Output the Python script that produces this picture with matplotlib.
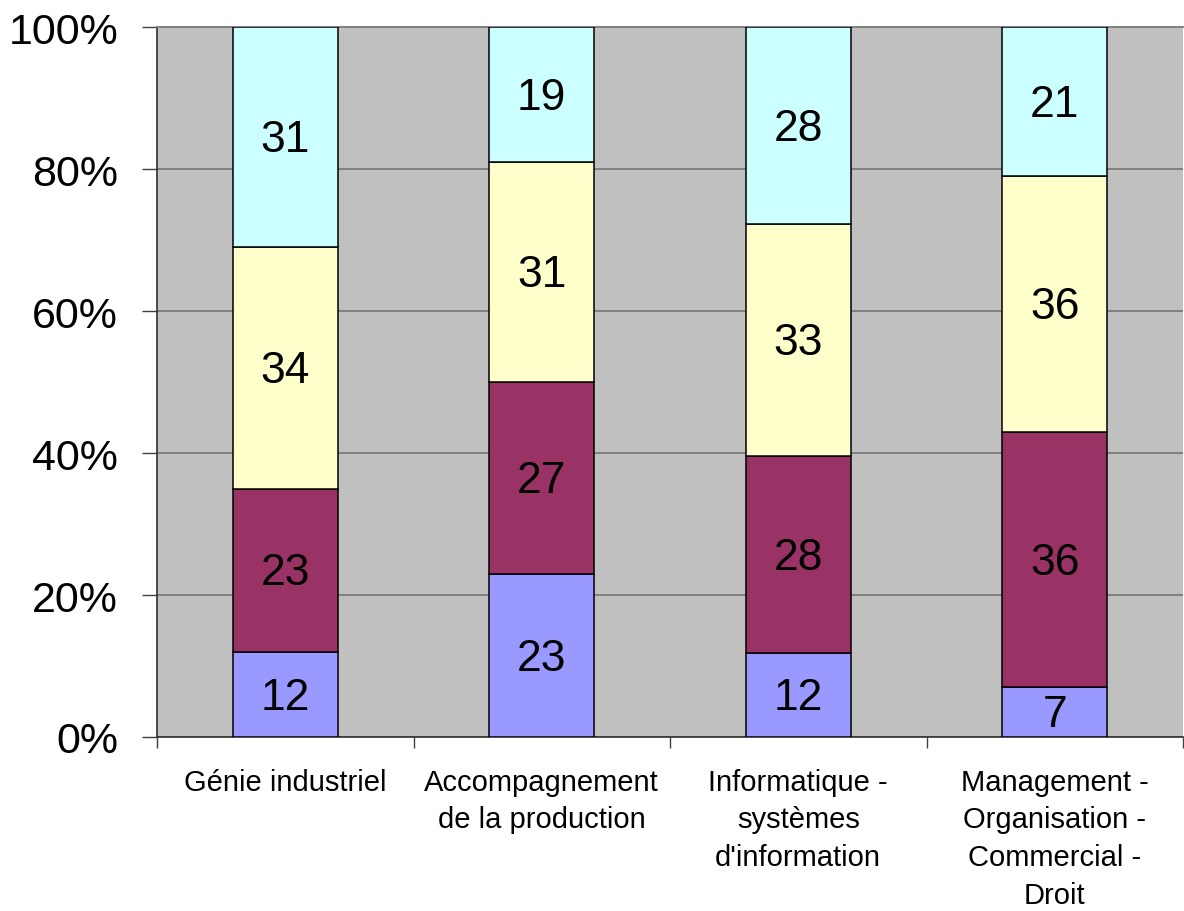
import matplotlib
matplotlib.use("Agg")
import matplotlib.pyplot as plt
import numpy as np

categories = [
    "Génie industriel",
    "Accompagnement\nde la production",
    "Informatique -\nsystèmes\nd'information",
    "Management -\nOrganisation -\nCommercial -\nDroit",
]
series_1 = [12, 23, 12, 7]
series_2 = [23, 27, 28, 36]
series_3 = [34, 31, 33, 36]
series_4 = [31, 19, 28, 21]
series = [series_1, series_2, series_3, series_4]
colors = ["#9999FF", "#993366", "#FFFFCC", "#CCFFFF"]
y_ticks = [0, 20, 40, 60, 80, 100]
y_tick_labels = ["0%", "20%", "40%", "60%", "80%", "100%"]

plt.rcParams["font.family"] = ["Liberation Sans", "DejaVu Sans"]

fig = plt.figure(figsize=(11.84, 9.12), dpi=100)
ax = fig.add_axes([157 / 1184, 1 - 738 / 912, 1026 / 1184, 710 / 912])
ax.set_facecolor("#C0C0C0")

data = np.array(series, dtype=float)
totals = data.sum(axis=0)
shares = data / totals * 100
x = np.arange(len(categories))
bottom = np.zeros(len(categories))
for vals, pct, col in zip(series, shares, colors):
    ax.bar(x, pct, bottom=bottom, width=0.41, color=col,
           edgecolor="black", linewidth=1.1, zorder=3)
    for xi, b, p, v in zip(x, bottom, pct, vals):
        ax.text(xi, b + p / 2 - 0.4, str(v), ha="center", va="center",
                fontsize=32, color="black", zorder=4)
    bottom += pct

ax.set_xlim(-0.5, len(categories) - 0.5)
ax.set_ylim(0, 100)
ax.set_yticks(y_ticks)
ax.set_yticklabels(y_tick_labels, fontsize=31)
ax.yaxis.grid(True, color="#808080", linewidth=1.4, zorder=1)
ax.set_axisbelow(True)
ax.tick_params(axis="y", length=11, width=1, pad=17, color="#404040")

ax.set_xticks(x)
ax.set_xticklabels(categories, fontsize=21, linespacing=1.45)
ax.set_xticks(np.arange(len(categories) + 1) - 0.5, minor=True)
ax.tick_params(axis="x", which="major", length=0, pad=22)
ax.tick_params(axis="x", which="minor", length=8, width=1, color="#404040")

for side in ["left", "bottom"]:
    ax.spines[side].set_color("#303030")
    ax.spines[side].set_linewidth(1.2)
ax.spines["top"].set_color("#808080")
ax.spines["top"].set_linewidth(1.4)
ax.spines["right"].set_visible(False)

fig.savefig("out.png", dpi=100, facecolor="white")
